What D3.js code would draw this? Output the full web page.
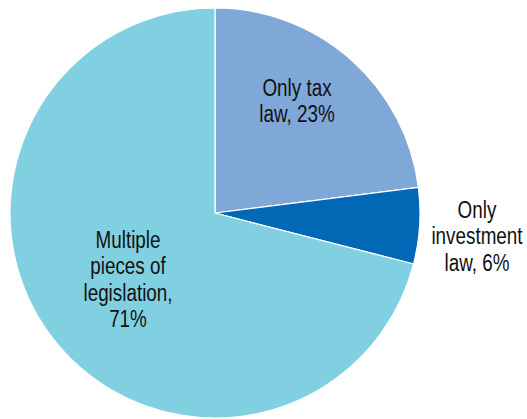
<!DOCTYPE html>
<html>
<head>
<meta charset="utf-8">
<script src="https://cdn.jsdelivr.net/npm/d3@7"></script>
<style>
  html, body { margin: 0; padding: 0; background: #fff; }
  svg { display: block; }
  text { font-family: "Liberation Sans", Arial, sans-serif; fill: #111; }
</style>
</head>
<body>
<svg id="chart" width="527" height="419"></svg>
<script>
// Share of cases by type of legislation relied upon
const categories = ["Only tax law", "Only investment law", "Multiple pieces of legislation"];
const shares = [23, 6, 71];
const labelLines = [
  ["Only tax", "law, 23%"],
  ["Only", "investment", "law, 6%"],
  ["Multiple", "pieces of", "legislation,", "71%"]
];
const colors = ["#7fa7d7", "#0068b5", "#80d0e2"];

const width = 527, height = 419;
const cx = 215, cy = 213, radius = 205;
// label anchor (centre x, first baseline y) relative to pie centre
const labelAnchor = [
  [82, -117],
  [262, 5],
  [-87, 35]
];
const lineStep = 26.5;
const narrow = 0.82; // condensed look for the label face

const svg = d3.select("#chart");
const g = svg.append("g").attr("transform", `translate(${cx},${cy})`);

const pie = d3.pie().sort(null).value(d => d.value);
const arc = d3.arc().innerRadius(0).outerRadius(radius);

const data = categories.map((c, i) => ({ name: c, value: shares[i], idx: i }));
const arcs = pie(data);

g.selectAll("path.slice")
  .data(arcs)
  .join("path")
  .attr("class", "slice")
  .attr("d", arc)
  .attr("fill", d => colors[d.data.idx])
  .attr("stroke", "#fff")
  .attr("stroke-width", 1.2)
  .attr("stroke-linejoin", "round");

const labels = g.selectAll("text.label")
  .data(arcs)
  .join("text")
  .attr("class", "label")
  .attr("text-anchor", "middle")
  .attr("font-size", 23)
  .attr("transform", d => `translate(${labelAnchor[d.data.idx][0]},${labelAnchor[d.data.idx][1]}) scale(${narrow},1)`);

labels.selectAll("tspan")
  .data(d => labelLines[d.data.idx])
  .join("tspan")
  .attr("x", 0)
  .attr("y", (d, i) => i * lineStep)
  .text(d => d);
</script>
</body>
</html>
